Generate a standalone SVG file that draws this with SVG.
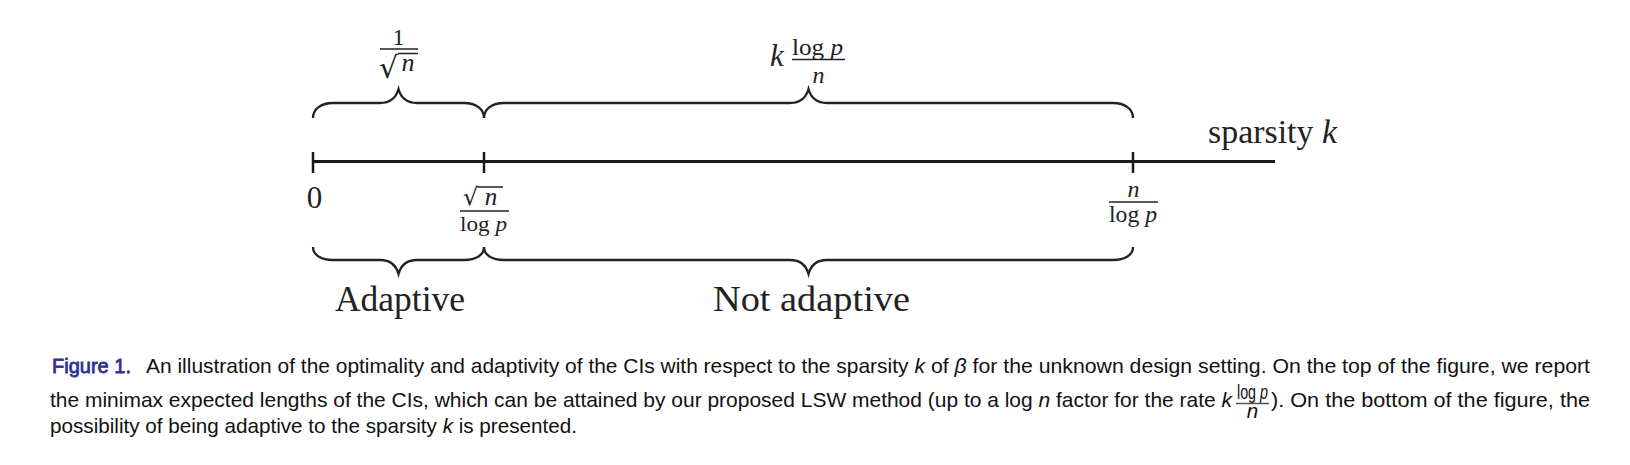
<svg xmlns="http://www.w3.org/2000/svg" width="1630" height="465" viewBox="0 0 1630 465">
<style>
.bg{fill:#fff}
.ln{stroke:#1a1a1a;fill:none;stroke-width:3}
.tk{stroke:#1a1a1a;fill:none;stroke-width:2.5}
.br{stroke:#222;fill:none;stroke-width:2.3;stroke-linejoin:miter}
.bar{stroke:#222;stroke-width:1.5}
.m{font-family:"Liberation Serif","DejaVu Serif",serif;fill:#222}
.i{font-style:italic}
.rad{font-family:"DejaVu Serif","Liberation Serif",serif;fill:#222}
.cap{font-family:"Liberation Sans","Open Sans",sans-serif;font-size:20.6px;fill:#111}
.fig{fill:#2e3192;stroke:#2e3192;stroke-width:0.8}
</style>
<rect class="bg" x="0" y="0" width="1630" height="465"/>
<g id="connectors">
<path class="ln" d="M313,161.5 H1275"/>
<path class="tk" d="M313,152 V173 M484,152 V173 M1133,152 V173"/>
<path class="br" d="M313,118 C313,109 321,103 333,103 L380,103 C390,103 396,98 398.5,89 C401,98 407,103 417,103 L464,103 C476,103 484,109 484,118"/>
<path class="br" d="M484,118 C484,109 492,103 504,103 L790,103 C800,103 806,98 808.5,89 C811,98 817,103 827,103 L1113,103 C1125,103 1133,109 1133,118"/>
<path class="br" d="M313,247 C313,255 321,260 333,260 L380,260 C390,260 396,265 398.5,274 C401,265 407,260 417,260 L464,260 C476,260 484,255 484,247"/>
<path class="br" d="M484,247 C484,255 492,260 504,260 L790,260 C800,260 806,265 808.5,274 C811,265 817,260 827,260 L1113,260 C1125,260 1133,255 1133,247"/>
</g>
<g id="label-top-left">
<text class="m" x="398.5" y="45" font-size="24" text-anchor="middle">1</text>
<line class="bar" x1="380" y1="49" x2="418" y2="49"/>
<text class="rad" x="379" y="78" font-size="30">√</text>
<line class="bar" x1="398" y1="53.5" x2="418" y2="53.5"/>
<text class="m i" x="408" y="71" font-size="26" text-anchor="middle">n</text>
</g>
<g id="label-top-right">
<text class="m i" x="770" y="66" font-size="31">k</text>
<text class="m" x="792" y="55" font-size="23" textLength="51" lengthAdjust="spacingAndGlyphs">log <tspan class="i">p</tspan></text>
<line class="bar" x1="792" y1="59.5" x2="845" y2="59.5"/>
<text class="m i" x="818.5" y="83" font-size="24" text-anchor="middle">n</text>
</g>
<g id="label-sparsity">
<text class="m" x="1208" y="143" font-size="33.5" textLength="129" lengthAdjust="spacingAndGlyphs">sparsity <tspan class="i">k</tspan></text>
</g>
<g id="tick-0">
<text class="m" x="314.5" y="208" font-size="31" text-anchor="middle">0</text>
</g>
<g id="tick-sqrt">
<text class="rad" x="463" y="205" font-size="24">√</text>
<line class="bar" x1="477.5" y1="187" x2="503" y2="187"/>
<text class="m i" x="491" y="205" font-size="25" text-anchor="middle">n</text>
<line class="bar" x1="460" y1="211" x2="509" y2="211"/>
<text class="m" x="460" y="231" font-size="22" textLength="47" lengthAdjust="spacingAndGlyphs">log <tspan class="i">p</tspan></text>
</g>
<g id="tick-n">
<text class="m i" x="1133.5" y="197" font-size="24" text-anchor="middle">n</text>
<line class="bar" x1="1109" y1="202" x2="1158" y2="202"/>
<text class="m" x="1109" y="222" font-size="23" textLength="48" lengthAdjust="spacingAndGlyphs">log <tspan class="i">p</tspan></text>
</g>
<g id="label-adaptive">
<text class="m" x="335" y="311" font-size="36" textLength="130" lengthAdjust="spacingAndGlyphs">Adaptive</text>
</g>
<g id="label-not-adaptive">
<text class="m" x="713" y="311" font-size="36" textLength="197" lengthAdjust="spacingAndGlyphs">Not adaptive</text>
</g>
<g id="caption">
<text class="cap fig" x="52" y="373" textLength="79" lengthAdjust="spacingAndGlyphs">Figure 1.</text>
<text class="cap" x="146" y="373" textLength="762.5" lengthAdjust="spacingAndGlyphs">An illustration of the optimality and adaptivity of the CIs with respect to the sparsity</text>
<text class="cap i" x="914.4" y="373" textLength="10.6" lengthAdjust="spacingAndGlyphs">k</text>
<text class="cap" x="931" y="373" textLength="17.7" lengthAdjust="spacingAndGlyphs">of</text>
<text class="cap i" x="954.6" y="373" textLength="12.1" lengthAdjust="spacingAndGlyphs">β</text>
<text class="cap" x="972.6" y="373" textLength="617.4" lengthAdjust="spacingAndGlyphs">for the unknown design setting. On the top of the figure, we report</text>
<text class="cap" x="50" y="407" textLength="982.7" lengthAdjust="spacingAndGlyphs">the minimax expected lengths of the CIs, which can be attained by our proposed LSW method (up to a log</text>
<text class="cap i" x="1038.5" y="407" textLength="11.7" lengthAdjust="spacingAndGlyphs">n</text>
<text class="cap" x="1056" y="407" textLength="159.7" lengthAdjust="spacingAndGlyphs">factor for the rate</text>
<text class="cap i" x="1221.5" y="407" textLength="10.5" lengthAdjust="spacingAndGlyphs">k</text>
<text class="cap" x="1237" y="399" font-size="13.5" textLength="31" lengthAdjust="spacingAndGlyphs">log <tspan font-style="italic">p</tspan></text>
<line x1="1236" y1="403.5" x2="1269" y2="403.5" stroke="#555" stroke-width="1.3"/>
<text class="cap i" x="1252.5" y="418" font-size="14" text-anchor="middle">n</text>
<text class="cap" x="1271" y="407" textLength="319" lengthAdjust="spacingAndGlyphs">). On the bottom of the figure, the</text>
<text class="cap" x="50" y="433" textLength="386.9" lengthAdjust="spacingAndGlyphs">possibility of being adaptive to the sparsity</text>
<text class="cap i" x="442.7" y="433" textLength="10.3" lengthAdjust="spacingAndGlyphs">k</text>
<text class="cap" x="458.7" y="433" textLength="118.3" lengthAdjust="spacingAndGlyphs">is presented.</text>
</g>
</svg>
